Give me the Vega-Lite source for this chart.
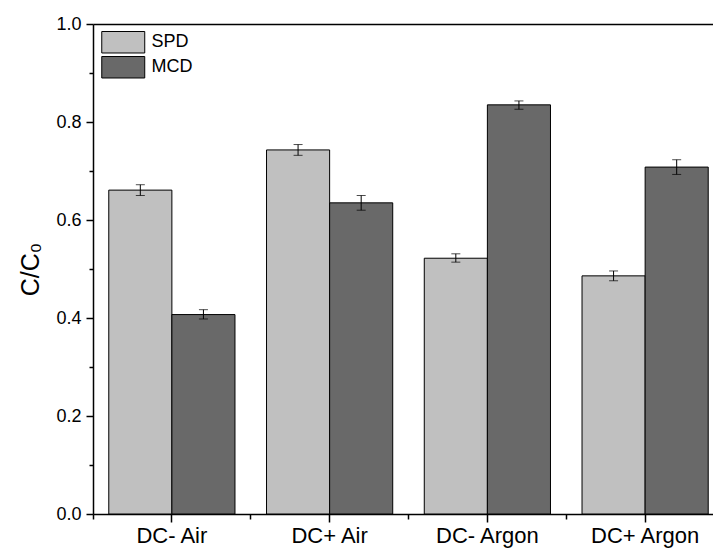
{
  "$schema": "https://vega.github.io/schema/vega-lite/v6.json",
  "width": 620,
  "height": 490,
  "autosize": {"type": "none"},
  "padding": {"left": 93, "top": 24, "right": 0, "bottom": 38},
  "background": "white",
  "config": {
    "view": {"stroke": null},
    "font": "Liberation Sans",
    "axis": {"grid": false, "domainColor": "black", "tickColor": "black", "labelColor": "black", "titleColor": "black", "labelFont": "Liberation Sans", "titleFont": "Liberation Sans", "titleFontWeight": "normal"}
  },
  "data": {"values": [
    {"group": "DC- Air", "series": "SPD", "value": 0.661, "lo": 0.650, "hi": 0.672},
    {"group": "DC- Air", "series": "MCD", "value": 0.407, "lo": 0.398, "hi": 0.417},
    {"group": "DC+ Air", "series": "SPD", "value": 0.743, "lo": 0.732, "hi": 0.754},
    {"group": "DC+ Air", "series": "MCD", "value": 0.635, "lo": 0.620, "hi": 0.650},
    {"group": "DC- Argon", "series": "SPD", "value": 0.522, "lo": 0.514, "hi": 0.531},
    {"group": "DC- Argon", "series": "MCD", "value": 0.835, "lo": 0.826, "hi": 0.843},
    {"group": "DC+ Argon", "series": "SPD", "value": 0.486, "lo": 0.476, "hi": 0.496},
    {"group": "DC+ Argon", "series": "MCD", "value": 0.708, "lo": 0.693, "hi": 0.723}
  ]},
  "layer": [
    {
      "mark": {"type": "bar", "stroke": "black", "strokeWidth": 1},
      "encoding": {
        "x": {"field": "group", "type": "nominal", "sort": ["DC- Air", "DC+ Air", "DC- Argon", "DC+ Argon"],
              "scale": {"range": [0, 631], "paddingInner": 0.2, "paddingOuter": 0.1},
              "axis": {"orient": "bottom", "title": null, "labelAngle": 0, "labelFontSize": 22, "tickSize": 8, "tickWidth": 1.5, "domainWidth": 1.5, "labelPadding": 3}},
        "xOffset": {"field": "series", "type": "nominal", "sort": ["SPD", "MCD"]},
        "y": {"field": "value", "type": "quantitative", "scale": {"domain": [0, 1]},
              "axis": {"orient": "left", "values": [0, 0.2, 0.4, 0.6, 0.8, 1.0], "format": ".1f", "title": "C/C₀", "titleFontSize": 25, "labelFontSize": 18, "tickSize": 7, "tickWidth": 1.5, "domainWidth": 1.5, "labelPadding": 5, "titlePadding": 12}},
        "color": {"field": "series", "type": "nominal", "sort": ["SPD", "MCD"],
                  "scale": {"domain": ["SPD", "MCD"], "range": ["#c0c0c0", "#696969"]},
                  "legend": {"orient": "none", "legendX": 18.75, "legendY": 6.75, "title": null, "symbolType": "M-2,-1H2V1H-2Z", "symbolSize": 462, "symbolStrokeColor": "black", "symbolStrokeWidth": 1, "symbolOpacity": 1, "labelFontSize": 18, "labelOffset": 16.75, "rowPadding": -2.5, "padding": 0}}
      }
    },
    {
      "mark": {"type": "rule", "color": "black", "strokeWidth": 1},
      "encoding": {
        "x": {"field": "group", "type": "nominal", "sort": ["DC- Air", "DC+ Air", "DC- Argon", "DC+ Argon"],
              "axis": {"orient": "top", "labels": false, "ticks": false, "title": null, "domainWidth": 1.5}},
        "xOffset": {"field": "series", "type": "nominal", "sort": ["SPD", "MCD"]},
        "y": {"field": "lo", "type": "quantitative",
              "axis": {"orient": "left", "values": [0.1, 0.3, 0.5, 0.7, 0.9], "labels": false, "tickSize": 4, "tickWidth": 1.5, "domain": false, "title": null}},
        "y2": {"field": "hi"}
      }
    },
    {
      "mark": {"type": "tick", "orient": "horizontal", "color": "black", "size": 9, "thickness": 1},
      "encoding": {
        "x": {"field": "group", "type": "nominal", "sort": ["DC- Air", "DC+ Air", "DC- Argon", "DC+ Argon"],
              "axis": {"orient": "bottom", "labels": false, "title": null, "domain": false, "tickSize": 5, "tickWidth": 1.5, "bandPosition": -0.125}},
        "xOffset": {"field": "series", "type": "nominal", "sort": ["SPD", "MCD"]},
        "y": {"field": "lo", "type": "quantitative", "axis": null}
      }
    },
    {
      "mark": {"type": "tick", "orient": "horizontal", "color": "black", "size": 9, "thickness": 1},
      "encoding": {
        "x": {"field": "group", "type": "nominal", "sort": ["DC- Air", "DC+ Air", "DC- Argon", "DC+ Argon"], "axis": null},
        "xOffset": {"field": "series", "type": "nominal", "sort": ["SPD", "MCD"]},
        "y": {"field": "hi", "type": "quantitative", "axis": null}
      }
    }
  ],
  "resolve": {"axis": {"x": "independent", "y": "independent"}}
}
